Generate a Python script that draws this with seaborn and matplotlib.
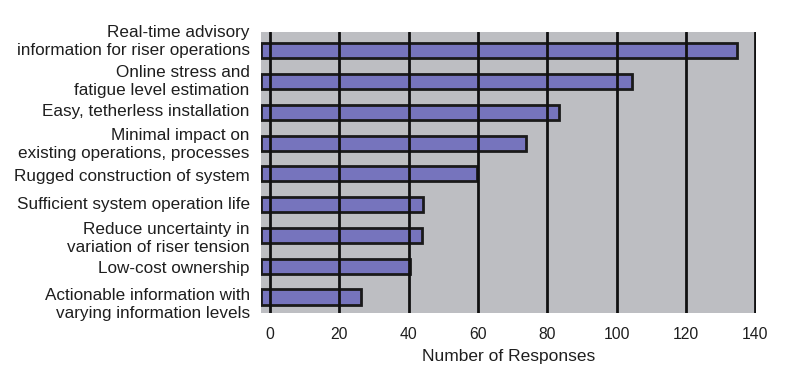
import matplotlib
matplotlib.use("Agg")
import matplotlib.pyplot as plt
import matplotlib.transforms as mtransforms
import seaborn as sns
import pandas as pd

categories = [
    "Real-time advisory\ninformation for riser operations",
    "Online stress and\nfatigue level estimation",
    "Easy, tetherless installation",
    "Minimal impact on\nexisting operations, processes",
    "Rugged construction of system",
    "Sufficient system operation life",
    "Reduce uncertainty in\nvariation of riser tension",
    "Low-cost ownership",
    "Actionable information with\nvarying information levels",
]
responses = [134.7, 104.4, 83.3, 73.8, 59.7, 44.1, 44.0, 40.4, 26.2]
xticks = [0, 20, 40, 60, 80, 100, 120, 140]
xlabel = "Number of Responses"

sns.set_theme(style="white")
plt.rcParams["font.family"] = ["Liberation Sans", "DejaVu Sans"]

df = pd.DataFrame({"cat": categories, "n": responses})

fig = plt.figure(figsize=(8.0, 3.78), dpi=100)
ax = fig.add_axes([0.326, 0.172, 0.619, 0.743])
ax.set_facecolor("#bdbec2")

sns.barplot(data=df, x="n", y="cat", orient="h", color="#7674bd",
            saturation=1, edgecolor="#1a1a1a", linewidth=2.0, width=0.49,
            ax=ax, zorder=2)

x0 = -2.6
for p in ax.patches:
    w = p.get_width()
    p.set_x(x0)
    p.set_width(w - x0)

ax.set_xlim(x0, 140.2)
ax.set_ylim(8.52, -0.61)
ax.set_xticks(xticks)
for xv in xticks:
    ax.axvline(xv, color="#111111", lw=2.0, zorder=3)
ax.tick_params(axis="x", length=5, width=2.0, color="#111111",
               labelsize=11.3, pad=5, labelcolor="#1e1e1e", direction="out")
ax.tick_params(axis="y", length=0, pad=8, labelsize=12.3, labelcolor="#1e1e1e")
for s in ax.spines.values():
    s.set_visible(False)
ax.set_xlabel(xlabel, fontsize=12.5, color="#1e1e1e", labelpad=5)
ax.set_ylabel("")

offsets = [9, 2, 1.5, 1, -1, 1.5, 0, -0.5, -3.5]
for lab, off in zip(ax.get_yticklabels(), offsets):
    lab.set_linespacing(1.22)
    lab.set_multialignment("right")
    lab.set_transform(lab.get_transform() +
                      mtransforms.ScaledTranslation(0, off / 72, fig.dpi_scale_trans))

fig.savefig("out.png", dpi=100)
